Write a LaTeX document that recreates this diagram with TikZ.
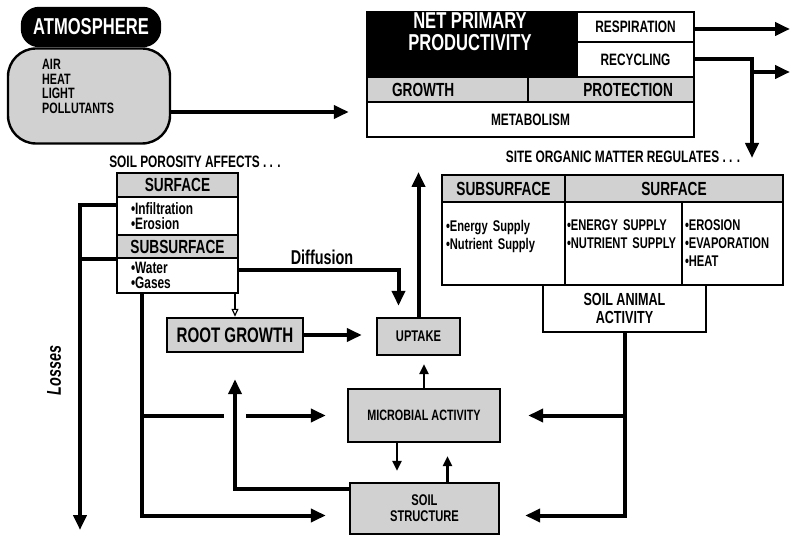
\documentclass[tikz,border=0pt]{standalone}
\usepackage{fontspec}
\setmainfont{Liberation Sans}[FakeStretch=0.72]
\usetikzlibrary{arrows.meta}

\begin{document}
\begin{tikzpicture}[x=1pt, y=-1pt]
	\tikzstyle{box} = [draw=black, line width=2.4pt, fill=white, inner sep=0pt, font=\bfseries\fontsize{16.5}{19}\selectfont];
	\tikzstyle{greybox} = [box, fill=black!18];
	\tikzstyle{blackbox} = [box, fill=black, text=white];
	\tikzstyle{header} = [greybox, font=\bfseries\fontsize{19}{21}\selectfont];
	\tikzstyle{list} = [box, align=left, inner xsep=3pt, font=\bfseries\fontsize{15.5}{18}\selectfont];
	\tikzstyle{heading} = [font=\bfseries\fontsize{16.5}{19}\selectfont];
	\tikzstyle{flow} = [line width=4pt, -{Triangle[length=15pt, width=13pt]}];
	\tikzstyle{flowline} = [line width=4pt];
	\tikzstyle{feed} = [line width=2.5pt, -{Triangle[length=10pt, width=9pt]}];

	\useasboundingbox (0, 0) rectangle (790, 537);

	\node[blackbox, rounded corners=17pt, minimum width=138pt, minimum height=38pt, font=\bfseries\fontsize{23}{26}\selectfont] at (91, 27) (atm) {ATMOSPHERE};
	\node[greybox, rounded corners=28pt, minimum width=162pt, minimum height=95pt] at (89, 96) (atmbox) {};
	\node[font=\bfseries\fontsize{15}{14.5}\selectfont, align=left, anchor=north west, inner sep=0pt] at (42, 59) (atmlist) {AIR\\HEAT\\LIGHT\\POLLUTANTS};

	\node[blackbox, minimum width=210pt, minimum height=65pt] at (472, 44.5) (npp) {};
		\node[text=white, align=center, font=\bfseries\fontsize{23}{22}\selectfont] at (470, 32) (npptext) {NET PRIMARY\\PRODUCTIVITY};
		\node[box, minimum width=117pt, minimum height=30pt] at (635.5, 27) (resp) {RESPIRATION};
		\node[box, minimum width=117pt, minimum height=35pt] at (635.5, 59.5) (recyc) {RECYCLING};
		\node[header, minimum height=25pt, text width=111pt, inner xsep=25pt, align=left] at (447.5, 89.5) (growth) {GROWTH};
		\node[header, minimum height=25pt, text width=124pt, inner xsep=21pt, align=right] at (611, 89.5) (protect) {PROTECTION};
		\node[box, minimum width=327pt, minimum height=35pt] at (530.5, 119.5) (metab) {METABOLISM};

	\coordinate (atmout) at ([yshift=-16pt]atmbox.east);
	\draw[flow, shorten >=17pt] (atmout) -- (atmout -| metab.west);

	\coordinate (respout) at (790, 29);
	\coordinate (recycdown) at (752, 158);
	\coordinate (recycout) at (790, 72);
	\draw[flow] (resp.east |- respout) -- (respout);
	\draw[flow] (recyc.east) -| (recycdown);
	\draw[flow] (recycout -| recycdown) -- (recycout);

	\node[heading] at (623, 157) (omtitle) {SITE ORGANIC MATTER REGULATES . . .};
	\node[header, minimum width=123pt, minimum height=27pt] at (503.5, 188.5) (omsub) {SUBSURFACE};
	\node[header, minimum width=218pt, minimum height=27pt] at (674, 188.5) (omsurf) {SURFACE};
		\node[list, minimum height=83pt, text width=115pt, inner xsep=4pt] at (503.5, 243.5) (ombody1) {•Energy Supply\\•Nutrient Supply\\\mbox{}};
		\node[list, minimum height=83pt, text width=113pt, inner xsep=2pt] at (623.5, 243.5) (ombody2) {•ENERGY SUPPLY\\•NUTRIENT SUPPLY\\\mbox{}};
		\node[list, minimum height=83pt, text width=95pt] at (732.5, 243.5) (ombody3) {•EROSION\\•EVAPORATION\\•HEAT};
	\node[box, minimum width=163pt, minimum height=47pt, align=center, font=\bfseries\fontsize{17.5}{17.5}\selectfont] at (624.5, 308.5) (animal) {SOIL ANIMAL\\ACTIVITY};

	\node[heading] at (195, 162) (portitle) {SOIL POROSITY AFFECTS . . .};
	\node[header, minimum width=121pt, minimum height=24pt] at (177.5, 185) (psurf) {SURFACE};
		\node[list, minimum height=38pt, text width=93pt, inner xsep=14pt, font=\bfseries\fontsize{16.5}{15}\selectfont] at (177.5, 216) (pbody1) {•Infiltration\\•Erosion};
	\node[header, minimum width=121pt, minimum height=23pt] at (177.5, 246.5) (psub) {SUBSURFACE};
		\node[list, minimum height=35pt, text width=93pt, inner xsep=14pt, font=\bfseries\fontsize{16.5}{15}\selectfont] at (177.5, 275.5) (pbody2) {•Water\\•Gases};

	\node[greybox, minimum width=136pt, minimum height=34pt, font=\bfseries\fontsize{21}{23}\selectfont] at (235, 335) (rootg) {ROOT GROWTH};
	\node[greybox, minimum width=83pt, minimum height=37pt, font=\bfseries\fontsize{15.5}{17}\selectfont] at (418.5, 336.5) (uptake) {UPTAKE};
	\node[greybox, minimum width=152pt, minimum height=53pt, font=\bfseries\fontsize{15}{16}\selectfont] at (424, 415.5) (microb) {MICROBIAL ACTIVITY};
	\node[greybox, minimum width=149pt, minimum height=51pt, align=center, font=\bfseries\fontsize{15.5}{16}\selectfont] at (424.5, 508.5) (soilst) {SOIL\\STRUCTURE};

	\coordinate (diffin) at ([xshift=-20pt, yshift=11pt]uptake.north);
	\coordinate (uptakeout) at (418.5, 172);
	\draw[flow] ([yshift=5.5pt]pbody2.east) -| node[pos=0.26, above, font=\bfseries\fontsize{20}{22}\selectfont] {Diffusion} (diffin);
	\draw[flow] (uptake.north) -- (uptakeout);
	\draw[line width=1.2pt, -{Triangle[open, length=8pt, width=7pt]}] (pbody2.south -| rootg.north) -- (rootg.north);
	\draw[flow, shorten >=14pt] (rootg.east) -- (rootg.east -| uptake.west);

	\coordinate (lossend) at (80, 530);
	\draw[flow] ([yshift=11pt]pbody1.west) -| node[pos=0.755, anchor=south, rotate=90, inner ysep=17pt, font=\bfseries\itshape\fontsize{20}{22}\selectfont] {Losses} (lossend);
	\draw[flowline] (psub.south west) -- (psub.south west -| lossend);

	\coordinate (ltop) at ([xshift=-35.5pt]pbody2.south);
	\draw[flow, shorten >=23pt] (ltop) |- ([yshift=-7pt]soilst.west);
	\draw[flowline] (ltop |- microb.west) -- ([xshift=-11pt]rootg.south |- microb.west);
	\draw[flow, shorten >=21pt] ([xshift=11pt]rootg.south |- microb.west) -- (microb.west);
	\draw[flow, shorten >=26pt] ([yshift=20pt]soilst.west) -| (rootg.south);

	\draw[flow, shorten >=25pt] (animal.south) |- ([yshift=-7pt]soilst.east);
	\draw[flow, shorten >=27pt] (animal.south |- microb.east) -- (microb.east);

	\draw[feed, shorten >=8pt] (microb.north) -- (microb.north |- uptake.south);
	\draw[feed, shorten >=11pt] ([xshift=-27pt]microb.south) -- ([xshift=-27pt]microb.south |- soilst.north);
	\draw[feed, shorten >=13pt] ([xshift=23pt]soilst.north) -- ([xshift=23pt]soilst.north |- microb.south);

\end{tikzpicture}
\end{document}
